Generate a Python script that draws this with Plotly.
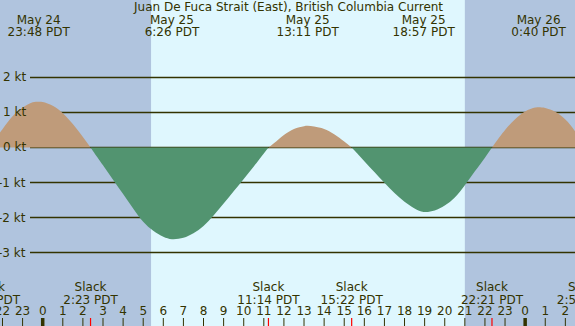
import plotly.graph_objects as go

# ---- data (hours relative to May 25 00:00 PDT, speeds in knots) ----
hour_ticks = list(range(-2, 27))
hour_labels = [str(h % 24) for h in hour_ticks]

slack_times = [-2.67, 2.38, 11.23, 15.37, 22.35, 26.93]
slack_labels = ["21:20 PDT", "2:23 PDT", "11:14 PDT", "15:22 PDT", "22:21 PDT", "2:56 PDT"]

max_times = [-0.2, 6.43, 13.18, 18.95, 24.67]
max_dates = ["May 24", "May 25", "May 25", "May 25", "May 26"]
max_labels = ["23:48 PDT", "6:26 PDT", "13:11 PDT", "18:57 PDT", "0:40 PDT"]

sunrise = 5.39
sunset = 21.0

speed_ticks = [2, 1, 0, -1, -2, -3]

# current speed
flood_a_t = [-2.67, -2.5, -2.0, -1.5, -1.0, -0.5, -0.2, 0.0, 0.5, 1.0, 1.5, 2.0, 2.38]
flood_a_v = [0, 0.14, 0.52, 0.89, 1.14, 1.29, 1.31, 1.30, 1.19, 0.98, 0.67, 0.30, 0]
ebb_b_t = [2.38, 2.5, 3.0, 3.5, 4.0, 4.5, 5.0, 5.5, 6.0, 6.43, 7.0, 7.5, 8.0, 8.5,
           9.0, 9.5, 10.0, 10.5, 11.0, 11.23]
ebb_b_v = [0, -0.10, -0.51, -0.92, -1.33, -1.74, -2.12, -2.38, -2.55, -2.62, -2.58, -2.45,
           -2.24, -1.94, -1.60, -1.25, -0.90, -0.54, -0.17, 0]
flood_c_t = [11.23, 11.5, 12.0, 12.5, 13.0, 13.18, 13.5, 14.0, 14.5, 15.0, 15.37]
flood_c_v = [0, 0.12, 0.36, 0.53, 0.61, 0.62, 0.60, 0.53, 0.38, 0.17, 0]
ebb_d_t = [15.37, 15.5, 16.0, 16.5, 17.0, 17.5, 18.0, 18.5, 18.95, 19.5, 20.0, 20.5,
           21.0, 21.5, 22.0, 22.35]
ebb_d_v = [0, -0.08, -0.39, -0.70, -1.01, -1.30, -1.55, -1.74, -1.84, -1.80, -1.66, -1.43,
           -1.08, -0.68, -0.29, 0]
flood_e_t = [22.35, 22.5, 23.0, 23.5, 24.0, 24.5, 24.67, 25.0, 25.5, 26.0, 26.5, 26.93]
flood_e_v = [0, 0.12, 0.50, 0.81, 1.03, 1.14, 1.15, 1.13, 1.02, 0.80, 0.45, 0]

title = "Juan De Fuca Strait (East), British Columbia Current"

# ---- styles ----
W, H = 575, 326
X_RANGE = [-2.124, 26.48]
Y_RANGE = [-5.1, 4.214]
TXT = "#333300"
FONT = "DejaVu Sans"
DAY = "#dff7fe"
NIGHT = "#b0c4de"
FLOOD = "#bf9b7a"
EBB = "#529470"

fig = go.Figure()

for t, v, c in [(flood_a_t, flood_a_v, FLOOD), (ebb_b_t, ebb_b_v, EBB),
                (flood_c_t, flood_c_v, FLOOD), (ebb_d_t, ebb_d_v, EBB),
                (flood_e_t, flood_e_v, FLOOD)]:
    fig.add_trace(go.Scatter(x=t, y=v, mode="lines", fill="tozeroy", fillcolor=c,
                             line=dict(shape="spline", width=0, color=c),
                             hoverinfo="skip"))

def text_trace(xs, ys, texts):
    fig.add_trace(go.Scatter(x=xs, y=ys, mode="text", text=texts,
                             textposition="middle center",
                             textfont=dict(family=FONT, size=12, color=TXT),
                             hoverinfo="skip", cliponaxis=True))

text_trace(hour_ticks, [-4.70] * len(hour_ticks), hour_labels)
text_trace(slack_times, [-4.0] * len(slack_times), ["Slack"] * len(slack_times))
text_trace(slack_times, [-4.39] * len(slack_times), slack_labels)
text_trace(max_times, [3.61] * len(max_times), max_dates)
text_trace(max_times, [3.28] * len(max_times), max_labels)

shapes = []
# night shading
for x0, x1 in [(-5, sunrise), (sunset, 30)]:
    shapes.append(dict(type="rect", xref="x", yref="paper", x0=x0, x1=x1, y0=0, y1=1,
                       fillcolor=NIGHT, line=dict(width=0), layer="below"))
# speed grid lines
for s in speed_ticks:
    shapes.append(dict(type="line", xref="paper", yref="y", x0=30 / W, x1=1, y0=s, y1=s,
                       line=dict(color=TXT, width=1.3), layer="below"))
# hour ticks
for h in hour_ticks:
    shapes.append(dict(type="line", xref="x", yref="paper", x0=h, x1=h, y0=0, y1=8 / H,
                       line=dict(color=TXT, width=3.5 if h % 24 == 0 else 1)))
# slack ticks
for s in slack_times:
    shapes.append(dict(type="line", xref="x", yref="paper", x0=s, x1=s, y0=0, y1=8 / H,
                       line=dict(color="red", width=1.2)))

annotations = [dict(xref="paper", yref="y", x=28 / W, y=s, text=f"{s} kt", showarrow=False,
                    xanchor="right", yanchor="middle",
                    font=dict(family=FONT, size=12, color=TXT)) for s in speed_ticks]
annotations.append(dict(xref="paper", yref="paper", x=0.5, y=1 - 7.5 / H, text=title,
                        showarrow=False, xanchor="center", yanchor="middle",
                        font=dict(family=FONT, size=12, color=TXT)))

fig.update_layout(width=W, height=H, margin=dict(l=0, r=0, t=0, b=0),
                  paper_bgcolor=DAY, plot_bgcolor=DAY, showlegend=False,
                  shapes=shapes, annotations=annotations,
                  xaxis=dict(range=X_RANGE, visible=False, fixedrange=True),
                  yaxis=dict(range=Y_RANGE, visible=False, fixedrange=True))

fig.write_html("out.html", config={"displayModeBar": False},
               post_script="document.body.style.margin='0';document.body.style.overflow='hidden';")
